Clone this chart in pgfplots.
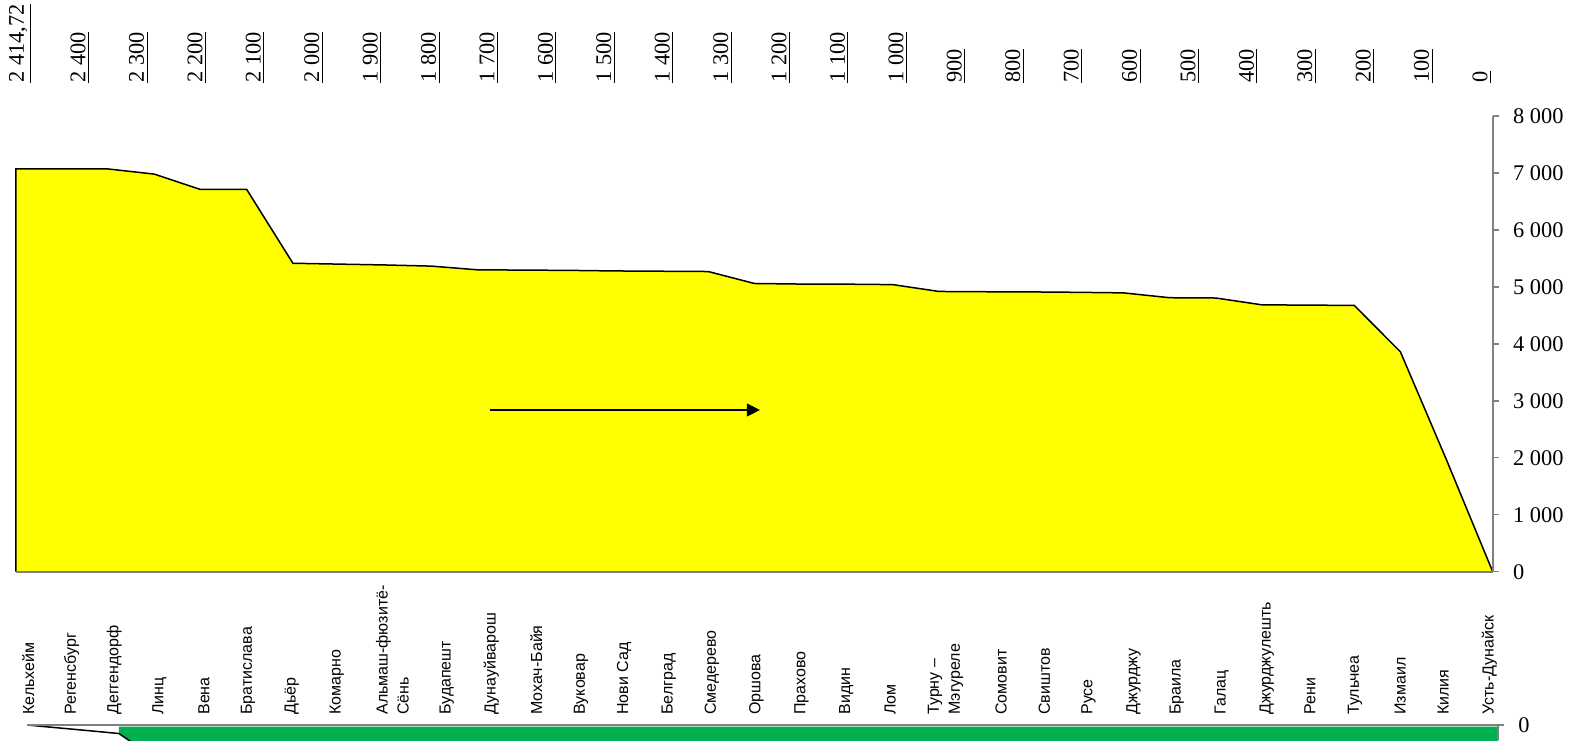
\documentclass[border=0pt]{standalone}
\usepackage{fontspec}
\setmainfont{Liberation Serif}
\newfontfamily\labelfont{Liberation Sans}
\usepackage{pgfplots}
\pgfplotsset{compat=1.18}
\usetikzlibrary{arrows.meta}
\definecolor{axgray}{RGB}{128,128,128}
\definecolor{exgreen}{RGB}{0,176,80}
\definecolor{exyellow}{RGB}{255,255,0}
\begin{document}
\begin{tikzpicture}
\useasboundingbox (0,0) rectangle (791.5pt,-370pt);
% main profile
\begin{axis}[
  at={(8pt,-285.85pt)}, anchor=south west,
  scale only axis, width=738.35pt, height=227.85pt,
  xmin=0, xmax=32, ymin=0, ymax=8000,
  axis x line*=bottom, axis y line*=right,
  axis line style={draw=axgray, line width=0.85pt},
  axis on top, clip=false,
  xtick=\empty,
  ytick={0,1000,2000,3000,4000,5000,6000,7000,8000},
  yticklabels={0,1~000,2~000,3~000,4~000,5~000,6~000,7~000,8~000},
  tick align=outside, major tick length=3pt,
  ytick style={draw=axgray, line width=0.7pt},
  yticklabel style={anchor=west, inner sep=0pt, xshift=7pt, font=\fontsize{11.2pt}{13pt}\selectfont},
]
\addplot[fill=exyellow, draw=none] coordinates {
(0,7070) (1,7070) (2,7070) (3,6980) (4,6710) (5,6710) (6,5415) (7,5400) (8,5385) (9,5365)
(10,5300) (11,5295) (12,5290) (13,5280) (14,5275) (15,5270) (16,5060) (17,5050) (18,5048) (19,5040)
(20,4920) (21,4915) (22,4912) (23,4905) (24,4895) (25,4810) (26,4805) (27,4685) (28,4680) (29,4675)
(30,3860) (31,1960) (32,0)} \closedcycle;
\addplot[black, line width=0.75pt] coordinates {
(0,0) (0,7070) (1,7070) (2,7070) (3,6980) (4,6710) (5,6710) (6,5415) (7,5400) (8,5385) (9,5365)
(10,5300) (11,5295) (12,5290) (13,5280) (14,5275) (15,5270) (16,5060) (17,5050) (18,5048) (19,5040)
(20,4920) (21,4915) (22,4912) (23,4905) (24,4895) (25,4810) (26,4805) (27,4685) (28,4680) (29,4675)
(30,3860) (31,1960) (32,0)};
\addplot[black, line width=0.65pt, -{Triangle[length=6.5pt,width=6.5pt]}] coordinates {(10.27,2839) (16.12,2839)};
\end{axis}
% top kilometre labels
\begin{axis}[
  at={(15.85pt,-41.5pt)}, anchor=north west,
  scale only axis, width=730.15pt, height=5pt,
  xmin=0, xmax=25, ymin=0, ymax=1,
  axis line style={draw=none},
  xtick={0,1,2,3,4,5,6,7,8,9,10,11,12,13,14,15,16,17,18,19,20,21,22,23,24,25},
  xtick pos=upper, xticklabel pos=upper,
  xtick style={draw=none},
  ytick=\empty,
  xticklabels={{\underline{2~414,72}},\underline{2~400},\underline{2~300},\underline{2~200},\underline{2~100},\underline{2~000},\underline{1~900},\underline{1~800},\underline{1~700},\underline{1~600},\underline{1~500},\underline{1~400},\underline{1~300},\underline{1~200},\underline{1~100},\underline{1~000},\underline{900},\underline{800},\underline{700},\underline{600},\underline{500},\underline{400},\underline{300},\underline{200},\underline{100},\underline{0}},
  xticklabel style={rotate=90, anchor=south west, inner sep=0pt, font=\fontsize{11.2pt}{13pt}\selectfont},
]
\end{axis}
% bottom strip
\begin{axis}[
  at={(13.5pt,-370pt)}, anchor=south west,
  scale only axis, width=735.5pt, height=7.5pt,
  xmin=0, xmax=32, ymin=-15, ymax=0,
  axis x line*=top, axis y line*=right,
  axis line style={draw=axgray, line width=0.85pt},
  axis on top,
  xtick={0.03,0.97,1.90,2.88,3.85,4.81,5.76,6.74,7.95,9.13,10.10,11.08,12.05,12.99,13.96,14.90,15.87,16.85,17.82,18.78,19.98,21.19,22.13,23.09,24.07,25.01,25.99,26.97,27.91,28.89,29.87,30.81,31.81},
  xticklabels={Кельхейм,Регенсбург,Деггендорф,Линц,Вена,Братислава,Дьёр,Комарно,{Альмаш-фюзитё-\\Сёнь},Будапешт,Дунауйварош,Мохач-Байя,Вуковар,Нови Сад,Белград,Смедерево,Оршова,Прахово,Видин,Лом,{Турну –\\Мэгуреле},Сомовит,Свиштов,Русе,Джурджу,Браила,Галац,Джурджулешть,Рени,Тульчеа,Измаил,Килия,Усть-Дунайск},
  xtick style={draw=none},
  xticklabel style={yshift=2pt, rotate=90, anchor=west, inner sep=0pt, align=left, font=\labelfont\fontsize{8pt}{10.5pt}\selectfont},
  ytick={0}, yticklabels={0},
  tick align=outside, major tick length=3pt,
  ytick style={draw=axgray, line width=0.7pt},
  yticklabel style={anchor=west, inner sep=0pt, xshift=7pt, font=\fontsize{11.2pt}{13pt}\selectfont},
]
\addplot[fill=exgreen, draw=none] coordinates {(2,-1.7) (32,-1.7) (32,-60) (3,-40) (2,-8.5)};
\addplot[black, line width=0.75pt] coordinates {(0,0) (1,-4.2) (2,-8.5) (3,-40) (4,-80)};
\end{axis}
\end{tikzpicture}
\end{document}
